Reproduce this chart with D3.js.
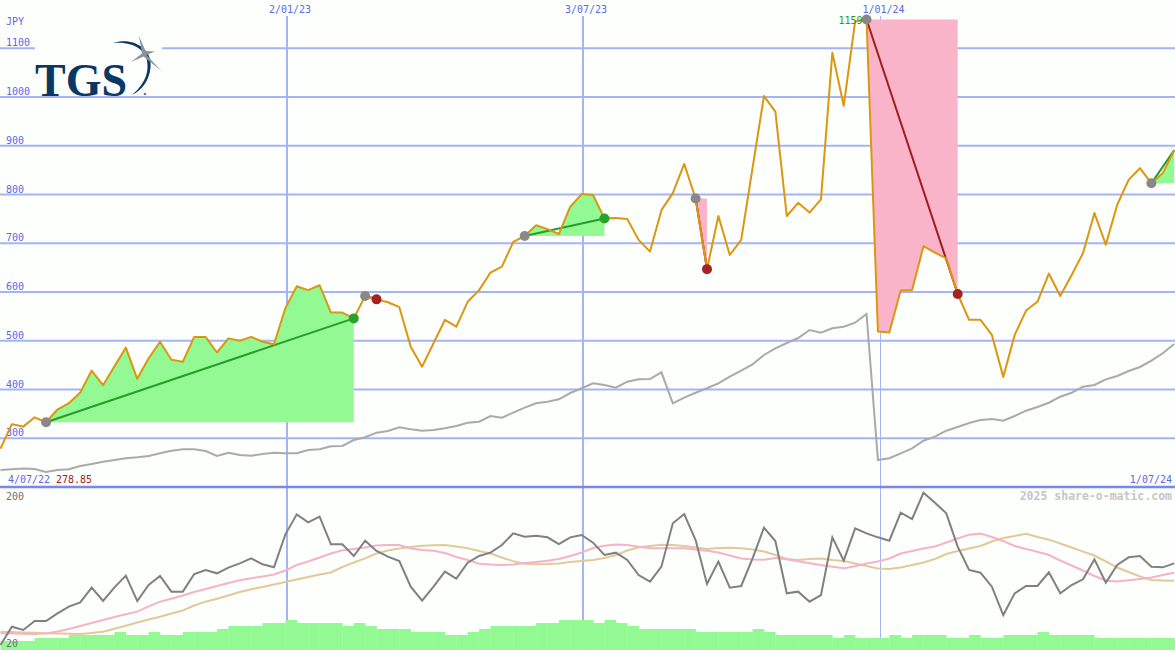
<!DOCTYPE html>
<html><head><meta charset="utf-8">
<script src="https://cdn.jsdelivr.net/npm/d3@7"></script>
<style>
html,body{margin:0;padding:0;background:#fdfffd;}
svg{display:block;}
text{font-family:"DejaVu Sans Mono",monospace;}
</style></head><body>
<svg id="c" width="1175" height="650"></svg>
<script>
// ---------- data ----------
const startDate = Date.UTC(2022, 6, 10);   // first weekly point
const currency = "JPY";
const firstLabel = "4/07/22";
const lastLabel = "1/07/24";
const priceTicks = [300, 400, 500, 600, 700, 800, 900, 1000, 1100];
const lowerTicks = [200, 20];
const dateTicks = ["2023-01-02", "2023-07-03", "2024-01-01"];
const dateTickLabels = ["2/01/23", "3/07/23", "1/01/24"];
const dateTickWidths = [2, 2, 1];

const price = [278.85,329,324,343,333,359,372,394,439,409,
  448,486,422,464,498,461,457,508,508,476,
  505,500,508,498,493,567,612,604,614,558,
  558,546,592,585,579,569,488,447,495,543,
  529,580,604,640,652,703,715,737,729,719,
  775,801,799,751,752,750,707,683,768,803,
  863,792,647,756,676,707,855,1002,970,756,
  783,763,790,1091,982,1155,1159,519,517,603,
  604,694,681,669,596,543,543,512,426,512,
  562,580,638,592,635,680,762,697,779,830,
  854,823,844,891];

const indexLine = [235.0,236.4,238.0,237.0,230.9,235.0,236.4,243.2,247.3,252.0,
  255.5,259.0,261.0,263.7,269.2,274.6,277.4,277.4,273.9,263.7,
  270.5,265.7,264.3,267.8,270.5,269.2,269.2,276.0,277.4,283.6,
  284.2,296.5,302.1,311.5,315.0,322.6,318.5,315.6,317.0,320.5,
  325.2,332.0,334.1,345.7,342.3,352.5,362.8,371.8,375.1,380.0,
  392.9,402.6,412.8,409.3,403.8,416.1,421.0,421.6,435.4,371.8,
  383.3,393.5,402.6,412.8,426.4,438.7,451.8,470.9,484.6,495.5,
  505.7,522.2,516.6,525.6,528.9,537.1,555.0,255.5,259.0,269.2,
  279.5,295.1,303.3,315.6,323.2,331.4,337.5,339.6,336.1,345.7,
  356.6,364.2,373.0,385.3,393.5,405.8,409.3,421.0,427.8,438.1,
  446.3,459.2,474.4,493.4];

const relStrength = [20,42,38,48.8,48.8,58,66,71.2,88.8,72.8,
  89.2,103.2,72.8,92,102.8,84,84,105.2,110,106,
  112.8,118,124,116.8,113.2,152.8,176.8,167.2,174,140.8,
  140.8,126.8,145.2,132.8,126,120.8,90,73.2,90,108,
  99.6,118.8,126.8,130.8,140,154,150,151.2,149.2,141.2,
  149.2,152,142.8,128,130.8,122,104,96,114,166,
  177.2,146,93.2,120,88.8,90.8,124,160.8,144.8,82,
  84,72,80,149.2,121.2,160,154,149.2,145.2,178.8,
  171.2,202.8,190.8,178,138,110,106.8,90,56,82,
  90.8,90.8,107.2,82,92,98.8,122.8,94.8,116,125.2,
  126.8,114,113.2,118];

const maFast = [34,33.8,33.6,33.2,33.8,36.2,39.2,42.8,46.4,50,
  53.6,56.8,60,66.4,72,75.6,79.4,83.6,87.2,90.8,
  94.4,97.6,100.2,102.2,104.6,109.4,116,120.2,125,129.8,
  133.6,135.2,137,139.4,140,140,135.8,134,133.2,130.4,
  125.6,122,117.6,116.6,116,116.6,118.4,119.6,121.2,123.2,
  126.8,131,136.4,139,140.6,140,137.8,136,136,136,
  136,134.6,133,131,127.4,123.8,122.5,122.4,124.4,122.8,
  120.4,118.2,116,114,112,114.4,117.8,120.2,123.8,129.8,
  132.8,135.7,138.2,143,147.8,152.4,153.8,149.6,144.8,138.8,
  135.2,131.8,128,121.4,115.4,109.4,102.8,97.4,96.2,97.6,
  99.2,101,104,106.6];

const maSlow = [36,35.6,35,34.6,34.2,33.8,33.4,33.2,34.4,36,
  39.4,43.2,47,50.6,54,57.8,61.4,67.4,72,75.4,
  79.4,83.6,87,89.6,92.6,95.6,98.6,101.6,104.6,107,
  113.6,119,124,129.8,133.4,135.8,137.6,139,139.6,140,
  138.2,136,132.8,129.8,125,120.4,117.4,116.8,117.1,117.8,
  119.6,120.8,122,124.4,127.6,133.4,137.2,138.8,140.2,140,
  138.8,137,135.2,136.4,136.6,136,134.6,132.2,128,123.2,
  122,123.2,123.8,122,120.8,117.8,114.8,111.8,111.2,113,
  116,119,123.2,129.2,132.8,135.8,138.8,144.2,148.4,150.8,
  153.6,149.6,146.4,141.8,137,132,127.4,120.2,113,107.6,
  102.2,98,97.5,97.2];

const volume = [3,3,3,4,4,4,5,5,5,5, 6,5,5,6,5,5,6,6,6,7,
  8,8,8,9,9,10,9,9,9,9, 8,9,8,7,7,7,6,6,6,5,
  5,6,7,8,8,8,8,9,9,10, 10,10,9,10,9,8,7,7,7,7,
  7,6,6,6,6,6,7,6,5,5, 5,5,5,4,5,4,4,4,5,4,
  5,5,5,4,4,5,4,4,5,5, 5,6,5,5,5,5,4,4,4,4,
  4,4,4,4];

const tradeStart = [4, 32, 46, 61, 76, 101];
const tradeEnd   = [31, 33, 53, 62, 84, null];

// ---------- scales ----------
const W = 1175, H = 650;
const dates = price.map((_, i) => new Date(startDate + i * 7 * 864e5));
const x = d3.scaleUtc().domain([dates[0], dates[dates.length - 1]]).range([0.5, 1174.2]);
const y = d3.scaleLinear().domain([300, 1100]).range([438.3, 48.3]);
const yl = d3.scaleLinear().domain([20, 200]).range([645, 495]);
const yv = d3.scaleLinear().domain([0, 10]).range([650, 620]);

const C = {
  grid: "#a4b4f4", sep: "#7888ee", label: "#5a68e6",
  orange: "#dc9610", index: "#aaaaaa", rs: "#808080",
  pink: "#f8b2c8", tan: "#e2c99a", vol: "#93f993",
  winFill: "#93f993", lossFill: "#fab4ca",
  winLine: "#2a9a2a", lossLine: "#a01c1c",
  dotStart: "#888888", dotWin: "#2ca02c", dotLoss: "#a52222"
};

const svg = d3.select("#c");
svg.append("rect").attr("width", W).attr("height", H).attr("fill", "#fdfffd");

// horizontal grid
svg.append("g").selectAll("line").data(priceTicks).join("line")
  .attr("x1", 0).attr("x2", W).attr("y1", d => y(d)).attr("y2", d => y(d))
  .attr("stroke", C.grid).attr("stroke-width", 2);

// vertical grid
dateTicks.forEach((d, k) => {
  const xx = Math.round(x(new Date(d))) + (dateTickWidths[k] === 1 ? 0.5 : 0);
  svg.append("line").attr("x1", xx).attr("x2", xx).attr("y1", 16).attr("y2", H)
    .attr("stroke", C.grid).attr("stroke-width", dateTickWidths[k]);
  svg.append("text").attr("x", xx + 3).attr("y", 13).attr("text-anchor", "middle")
    .attr("font-size", 10).attr("fill", C.label).text(dateTickLabels[k]);
});

// separator
svg.append("line").attr("x1", 0).attr("x2", W).attr("y1", 487).attr("y2", 487)
  .attr("stroke", C.sep).attr("stroke-width", 2.5);

// price labels
svg.append("g").selectAll("text").data(priceTicks).join("text")
  .attr("x", 6).attr("y", d => y(d) - 2).attr("font-size", 10).attr("fill", C.label)
  .text(d => d);
svg.append("text").attr("x", 6).attr("y", 24.5).attr("font-size", 10).attr("fill", C.label).text(currency);

// logo
const logo = svg.append("g");
logo.append("rect").attr("x", 35).attr("y", 37).attr("width", 127).attr("height", 57).attr("fill", "#fdfffd");
logo.append("text").attr("x", 35).attr("y", 96)
  .style("font-family", "'Liberation Serif', 'DejaVu Serif', serif")
  .style("font-weight", "bold").style("font-size", "46px").attr("fill", "#0b3764").text("TGS");
logo.append("path").attr("d", "M113,43 C132,37 153,48 150.5,68 C149,81 142,90 132,95 C140,88 147,79 147.5,68 C149,50 133,41 113,43 Z")
  .attr("fill", "#0b3764");
logo.append("path").attr("d", "M139,36 L145.5,51 L155,51.5 L146.5,55 L161.5,71 L143.5,56.5 L131,62 L142,53.5 Z")
  .attr("fill", "#8d929a");
logo.append("circle").attr("cx", 145).attr("cy", 94).attr("r", 1.3).attr("fill", "#6a7a90");

// index line
const line = (arr, sc) => d3.line().x((d, i) => x(dates[i])).y(d => sc(d))(arr);
svg.append("path").attr("d", line(indexLine, y)).attr("fill", "none")
  .attr("stroke", C.index).attr("stroke-width", 2);

// trades
const trades = tradeStart.map((s, k) => {
  const e = tradeEnd[k] == null ? price.length - 1 : tradeEnd[k];
  return { s, e, open: tradeEnd[k] == null, win: price[e] >= price[s] };
});
trades.forEach(t => {
  const idx = d3.range(t.s, t.e + 1);
  const area = d3.area().x(i => x(dates[i])).y0(y(price[t.s])).y1(i => y(price[i]));
  svg.append("path").attr("d", area(idx)).attr("fill", t.win ? C.winFill : C.lossFill);
});
trades.forEach(t => {
  svg.append("line").attr("x1", x(dates[t.s])).attr("y1", y(price[t.s]))
    .attr("x2", x(dates[t.e])).attr("y2", y(price[t.e]))
    .attr("stroke", t.win ? C.winLine : C.lossLine).attr("stroke-width", 2);
});

// price line
svg.append("path").attr("d", line(price, y)).attr("fill", "none")
  .attr("stroke", C.orange).attr("stroke-width", 2).attr("stroke-linejoin", "round");

// dots
trades.forEach(t => {
  svg.append("circle").attr("cx", x(dates[t.s])).attr("cy", y(price[t.s])).attr("r", 5).attr("fill", C.dotStart);
  if (!t.open) svg.append("circle").attr("cx", x(dates[t.e])).attr("cy", y(price[t.e])).attr("r", 5)
    .attr("fill", t.win ? C.dotWin : C.dotLoss);
});

// max label
const iMax = d3.maxIndex(price);
svg.append("text").attr("x", x(dates[iMax]) - 4).attr("y", y(price[iMax]) + 4)
  .attr("text-anchor", "end").attr("font-size", 10).attr("fill", C.winLine).text(Math.round(price[iMax]));

// bottom-of-upper labels
svg.append("text").attr("x", 8).attr("y", 483).attr("font-size", 10).attr("fill", C.label).text(firstLabel);
svg.append("text").attr("x", 56).attr("y", 483).attr("font-size", 10).attr("fill", "#a41c1c").text(price[0].toFixed(2));
svg.append("text").attr("x", 1172).attr("y", 483).attr("text-anchor", "end").attr("font-size", 10).attr("fill", C.label).text(lastLabel);

// lower panel: volume
svg.append("g").selectAll("rect").data(volume).join("rect")
  .attr("x", (d, i) => x(dates[i]))
  .attr("width", (d, i) => x(new Date(+dates[i] + 7 * 864e5)) - x(dates[i]) + 0.3)
  .attr("y", d => yv(d)).attr("height", d => yv(0) - yv(d)).attr("fill", C.vol);

svg.append("path").attr("d", line(maSlow, yl)).attr("fill", "none").attr("stroke", C.tan).attr("stroke-width", 2);
svg.append("path").attr("d", line(maFast, yl)).attr("fill", "none").attr("stroke", C.pink).attr("stroke-width", 2);
svg.append("path").attr("d", line(relStrength, yl)).attr("fill", "none").attr("stroke", C.rs).attr("stroke-width", 2);

svg.append("text").attr("x", 6).attr("y", 500).attr("font-size", 10).attr("fill", "#707070").text(lowerTicks[0]);
svg.append("text").attr("x", 6).attr("y", 646.5).attr("font-size", 10).attr("fill", "#707070").text(lowerTicks[1]);
svg.append("text").attr("x", 1172).attr("y", 500).attr("text-anchor", "end").attr("font-size", 11.5)
  .attr("font-weight", "bold").attr("fill", "#c6c6c6").text("2025 share-o-matic.com");
</script>
</body></html>
